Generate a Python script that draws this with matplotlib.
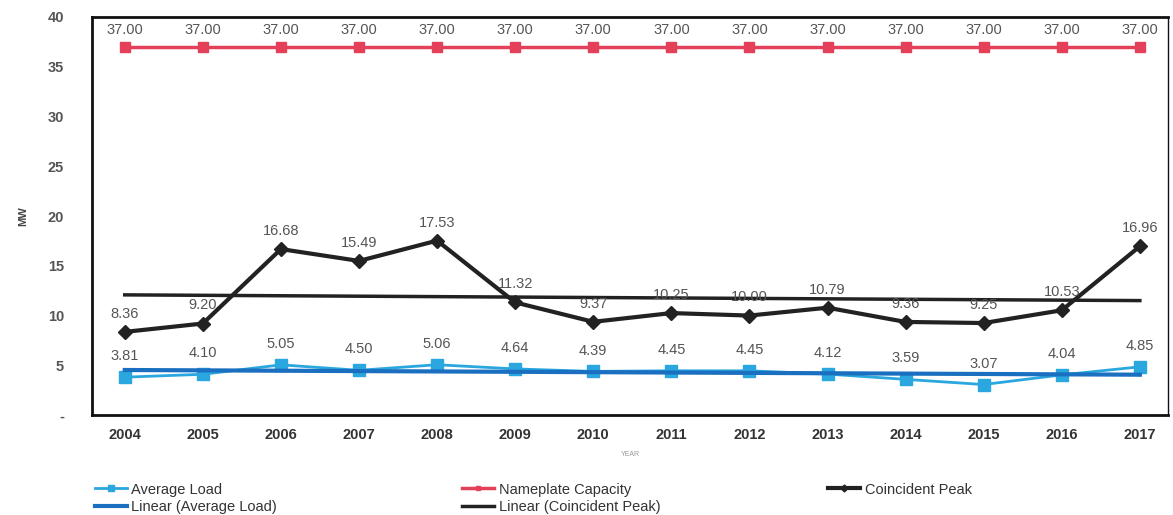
import numpy as np
import matplotlib.pyplot as plt

years = ['2004', '2005', '2006', '2007', '2008', '2009', '2010',
         '2011', '2012', '2013', '2014', '2015', '2016', '2017']
average_load = [3.81, 4.10, 5.05, 4.50, 5.06, 4.64, 4.39,
                4.45, 4.45, 4.12, 3.59, 3.07, 4.04, 4.85]
nameplate = [37.00] * 14
coincident_peak = [8.36, 9.20, 16.68, 15.49, 17.53, 11.32, 9.37,
                   10.25, 10.00, 10.79, 9.36, 9.25, 10.53, 16.96]

plt.rcParams['font.family'] = ['Liberation Sans', 'DejaVu Sans']

fig = plt.figure(figsize=(11.73, 5.15), dpi=100)
ax = fig.add_axes([0.0784, 0.194, 0.9173, 0.773])

x = np.arange(len(years))
label_color = '#555555'

# trend lines (least squares, like Excel "Linear")
fit_avg = np.polyval(np.polyfit(x, average_load, 1), x)
fit_cp = np.polyval(np.polyfit(x, coincident_peak, 1), x)

l_avg, = ax.plot(x, average_load, color='#2aa7de', lw=2, marker='s', ms=8,
                 label='Average Load', zorder=3)
l_name, = ax.plot(x, nameplate, color='#e5405a', lw=2.5, marker='s', ms=7,
                  label='Nameplate Capacity', zorder=3)
l_cp, = ax.plot(x, coincident_peak, color='#222222', lw=3, marker='D', ms=7,
                label='Coincident Peak', zorder=3)
l_favg, = ax.plot(x, fit_avg, color='#1b6fc0', lw=3,
                  label='Linear (Average Load)', zorder=4)
l_fcp, = ax.plot(x, fit_cp, color='#222222', lw=2.5,
                 label='Linear (Coincident Peak)', zorder=2)

for series, dy in [(average_load, 10), (nameplate, 7), (coincident_peak, 8)]:
    for xi, v in zip(x, series):
        ax.annotate(f'{v:.2f}', (xi, v), xytext=(0, dy), textcoords='offset points',
                    ha='center', va='bottom', fontsize=10.5, color=label_color)

ax.set_xlim(-0.42, 13.36)
ax.set_ylim(0, 40)
ax.set_xticks(x)
ax.set_xticklabels(years, fontsize=10.5, fontweight='bold', color='#333333')
ax.set_yticks(range(0, 41, 5))
ax.set_yticklabels(['-'] + [str(v) for v in range(5, 41, 5)],
                   fontsize=10.5, fontweight='bold', color='#555555')
ax.tick_params(axis='x', length=0, pad=9)
ax.tick_params(axis='y', length=0, pad=20)
for s in ax.spines.values():
    s.set_linewidth(2)
    s.set_color('#111111')
ax.spines['right'].set_linewidth(1)

ax.set_ylabel('MW', fontsize=8, fontweight='bold', color='#444444', labelpad=14)
ax.set_xlabel('YEAR', fontsize=5, color='#999999', labelpad=7)

# one legend per column, as in the original layout
legend_kw = dict(loc='upper left', frameon=False, fontsize=10.5, handlelength=2.2,
                 handletextpad=0.3, labelspacing=0.25, markerscale=0.5,
                 labelcolor='#333333', borderaxespad=0, borderpad=0)
for handles, x0 in [([l_avg, l_favg], 0.081), ([l_name, l_fcp], 0.394),
                    ([l_cp], 0.706)]:
    fig.legend(handles=handles, bbox_to_anchor=(x0, 0.063), **legend_kw)

fig.savefig('out.png', dpi=100)
